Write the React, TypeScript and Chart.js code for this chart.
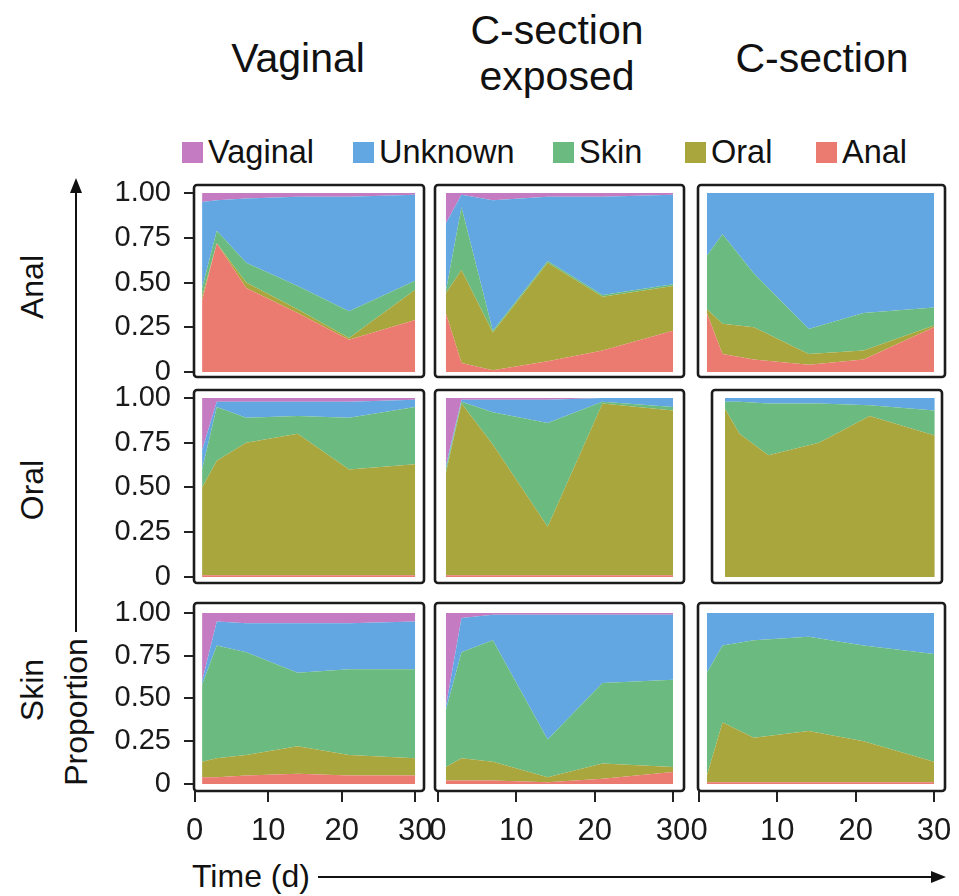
import React, { useEffect, useRef } from "react";
import { Chart, registerables } from "chart.js";
Chart.register(...registerables);

// ---------- data ----------
const days = [1, 3, 7, 14, 21, 30];
const sources = ["Anal", "Oral", "Skin", "Unknown", "Vaginal"]; // stacked bottom -> top
const legendOrder = ["Vaginal", "Unknown", "Skin", "Oral", "Anal"];
const sourceColors: Record<string, string> = {
  Anal: "#EB7A70",
  Oral: "#A8A63C",
  Skin: "#6BBB80",
  Unknown: "#62A6E2",
  Vaginal: "#C47BC1",
};
const deliveryModes = ["Vaginal", "C-section\nexposed", "C-section"];
const bodySites = ["Anal", "Oral", "Skin"];
const xTickValues = [0, 10, 20, 30];
const yTickValues = [0, 0.25, 0.5, 0.75, 1];
const yTickLabels = ["0", "0.25", "0.50", "0.75", "1.00"];

const anal_vaginal = {
  Anal: [0.4, 0.72, 0.47, 0.33, 0.18, 0.29],
  Oral: [0.02, 0.0, 0.03, 0.02, 0.01, 0.17],
  Skin: [0.05, 0.07, 0.11, 0.13, 0.15, 0.05],
  Unknown: [0.48, 0.17, 0.36, 0.5, 0.64, 0.48],
  Vaginal: [0.05, 0.04, 0.03, 0.02, 0.02, 0.01],
};
const anal_exposed = {
  Anal: [0.33, 0.05, 0.01, 0.06, 0.12, 0.23],
  Oral: [0.11, 0.52, 0.21, 0.55, 0.3, 0.25],
  Skin: [0.01, 0.35, 0.01, 0.01, 0.01, 0.01],
  Unknown: [0.38, 0.07, 0.73, 0.36, 0.55, 0.5],
  Vaginal: [0.17, 0.01, 0.04, 0.02, 0.02, 0.01],
};
const anal_csection = {
  Anal: [0.33, 0.1, 0.07, 0.04, 0.07, 0.25],
  Oral: [0.02, 0.17, 0.18, 0.06, 0.05, 0.01],
  Skin: [0.3, 0.5, 0.3, 0.14, 0.21, 0.1],
  Unknown: [0.35, 0.23, 0.45, 0.76, 0.67, 0.64],
  Vaginal: [0, 0, 0, 0, 0, 0],
};
const oral_vaginal = {
  Anal: [0.01, 0.01, 0.01, 0.01, 0.01, 0.01],
  Oral: [0.49, 0.64, 0.74, 0.79, 0.59, 0.62],
  Skin: [0.1, 0.3, 0.14, 0.1, 0.29, 0.32],
  Unknown: [0.11, 0.03, 0.09, 0.08, 0.09, 0.04],
  Vaginal: [0.29, 0.02, 0.02, 0.02, 0.02, 0.01],
};
const oral_exposed = {
  Anal: [0.01, 0.01, 0.01, 0.01, 0.01, 0.01],
  Oral: [0.57, 0.96, 0.73, 0.27, 0.96, 0.92],
  Skin: [0.02, 0.01, 0.18, 0.58, 0.01, 0.02],
  Unknown: [0.02, 0.01, 0.07, 0.13, 0.02, 0.05],
  Vaginal: [0.38, 0.01, 0.01, 0.01, 0.0, 0.0],
};
const oral_csection = {
  Anal: [0, 0, 0, 0, 0, 0],
  Oral: [0.94, 0.8, 0.68, 0.75, 0.9, 0.79],
  Skin: [0.04, 0.18, 0.29, 0.22, 0.06, 0.14],
  Unknown: [0.02, 0.02, 0.03, 0.03, 0.04, 0.07],
  Vaginal: [0, 0, 0, 0, 0, 0],
};
const skin_vaginal = {
  Anal: [0.04, 0.04, 0.05, 0.06, 0.05, 0.05],
  Oral: [0.09, 0.11, 0.12, 0.16, 0.12, 0.1],
  Skin: [0.45, 0.66, 0.6, 0.43, 0.5, 0.52],
  Unknown: [0.02, 0.14, 0.17, 0.29, 0.27, 0.28],
  Vaginal: [0.4, 0.05, 0.06, 0.06, 0.06, 0.05],
};
const skin_exposed = {
  Anal: [0.02, 0.02, 0.02, 0.01, 0.03, 0.07],
  Oral: [0.08, 0.13, 0.11, 0.03, 0.09, 0.03],
  Skin: [0.33, 0.62, 0.71, 0.22, 0.47, 0.51],
  Unknown: [0.02, 0.2, 0.15, 0.73, 0.4, 0.38],
  Vaginal: [0.55, 0.03, 0.01, 0.01, 0.01, 0.01],
};
const skin_csection = {
  Anal: [0.01, 0.01, 0.01, 0.01, 0.01, 0.01],
  Oral: [0.04, 0.35, 0.26, 0.3, 0.24, 0.12],
  Skin: [0.6, 0.45, 0.57, 0.55, 0.56, 0.63],
  Unknown: [0.35, 0.19, 0.16, 0.14, 0.19, 0.24],
  Vaginal: [0, 0, 0, 0, 0, 0],
};

const panelData = [
  [anal_vaginal, anal_exposed, anal_csection],
  [oral_vaginal, oral_exposed, oral_csection],
  [skin_vaginal, skin_exposed, skin_csection],
];

// ---------- layout ----------
const FONT = "'Liberation Sans', Arial, Helvetica, sans-serif";
const rowBoxes = [
  { y0: 185, y1: 377, ymin: -0.028, ymax: 1.045 },
  { y0: 390, y1: 583, ymin: -0.034, ymax: 1.045 },
  { y0: 603, y1: 791, ymin: -0.041, ymax: 1.058 },
];
const colBoxes = [
  { x0: 194, x1: 424, xmin: -0.1, xmax: 31.2 },
  { x0: 435, x1: 684, xmin: -0.38, xmax: 31.4 },
  { x0: 698, x1: 945, xmin: -0.13, xmax: 31.4 },
];
const specialBoxes: Record<string, { x0: number; x1: number; xmin: number; xmax: number }> = {
  "1-2": { x0: 712, x1: 942, xmin: -0.8, xmax: 31.0 },
};
const M = 30;
const AW = 100;
const AH = 70;

const boxPlugin = {
  id: "panelBox",
  afterDraw(chart: any) {
    const { ctx, chartArea } = chart;
    ctx.save();
    ctx.strokeStyle = "#1c1c1c";
    ctx.lineWidth = 2.6;
    ctx.beginPath();
    const w = chartArea.right - chartArea.left;
    const h = chartArea.bottom - chartArea.top;
    if (ctx.roundRect) ctx.roundRect(chartArea.left, chartArea.top, w, h, 3);
    else ctx.rect(chartArea.left, chartArea.top, w, h);
    ctx.stroke();
    ctx.restore();
  },
};

function Panel({ row, col }: { row: number; col: number }) {
  const ref = useRef<HTMLCanvasElement>(null);
  const rb = rowBoxes[row];
  const cb = specialBoxes[`${row}-${col}`] || colBoxes[col];
  const showY = col === 0;
  const showX = row === 2;
  const left = cb.x0 - M - (showY ? AW : 0);
  const top = rb.y0 - M;
  const width = cb.x1 - cb.x0 + 2 * M + (showY ? AW : 0);
  const height = rb.y1 - rb.y0 + 2 * M + (showX ? AH : 0);

  useEffect(() => {
    const data: any = panelData[row][col];
    const chart = new Chart(ref.current!, {
      type: "line",
      data: {
        datasets: sources.map((s, i) => ({
          label: s,
          data: days.map((d, j) => ({ x: d, y: data[s][j] })),
          backgroundColor: sourceColors[s],
          borderColor: sourceColors[s],
          borderWidth: 0,
          pointRadius: 0,
          fill: i === 0 ? "origin" : "-1",
          tension: 0,
        })),
      },
      options: {
        animation: false,
        responsive: false,
        maintainAspectRatio: false,
        layout: { padding: M },
        plugins: { legend: { display: false }, tooltip: { enabled: false } },
        scales: {
          x: {
            type: "linear",
            min: cb.xmin,
            max: cb.xmax,
            display: showX,
            afterBuildTicks: (s: any) => {
              s.ticks = xTickValues.map((v) => ({ value: v }));
            },
            afterFit: (s: any) => {
              if (!showX) return;
              s.height = AH;
              s.paddingLeft = 0;
              s.paddingRight = 0;
            },
            grid: {
              drawOnChartArea: false,
              drawTicks: true,
              tickLength: 11,
              color: "#222",
              tickColor: "#222",
              lineWidth: 2,
            },
            border: { display: false },
            ticks: {
              font: { size: 31, family: FONT },
              color: "#1a1a1a",
              padding: 11,
              maxRotation: 0,
              autoSkip: false,
              callback: (v: any) => String(v),
            },
          },
          y: {
            stacked: true,
            min: rb.ymin,
            max: rb.ymax,
            display: showY,
            afterBuildTicks: (s: any) => {
              s.ticks = yTickValues.map((v) => ({ value: v }));
            },
            afterFit: (s: any) => {
              if (!showY) return;
              s.width = AW;
              s.paddingTop = 0;
              s.paddingBottom = 0;
            },
            grid: {
              drawOnChartArea: false,
              drawTicks: true,
              tickLength: 10,
              color: "#222",
              tickColor: "#222",
              lineWidth: 2,
            },
            border: { display: false },
            ticks: {
              font: { size: 29, family: FONT },
              color: "#1a1a1a",
              padding: 13,
              autoSkip: false,
              callback: (v: any) => {
                const k = yTickValues.indexOf(Number(v));
                return k >= 0 ? yTickLabels[k] : "";
              },
            },
          },
        },
      },
      plugins: [boxPlugin],
    } as any);
    return () => chart.destroy();
  }, []);

  return (
    <canvas
      ref={ref}
      width={width}
      height={height}
      style={{ position: "absolute", left, top, width, height }}
    />
  );
}

const txt = (extra: React.CSSProperties): React.CSSProperties => ({
  position: "absolute",
  fontFamily: FONT,
  color: "#111",
  whiteSpace: "nowrap",
  lineHeight: 1,
  ...extra,
});

const titleCenters = [
  { x: 298, y: 58 },
  { x: 557, y: 53 },
  { x: 822, y: 58 },
];
const rowLabelCenters = [287, 490, 690];
const legendSquareX = [182, 353, 553, 685, 816];

export default function App() {
  return (
    <div style={{ position: "absolute", left: 0, top: 0, width: 959, height: 896, background: "#fff", overflow: "hidden" }}>
      {deliveryModes.map((t, i) => (
        <div
          key={t}
          style={txt({
            left: titleCenters[i].x,
            top: titleCenters[i].y,
            transform: "translate(-50%, -50%)",
            fontSize: 41,
            lineHeight: "46px",
            textAlign: "center",
            whiteSpace: "pre",
          })}
        >
          {t}
        </div>
      ))}

      {legendOrder.map((s, i) => (
        <React.Fragment key={s}>
          <div
            style={{
              position: "absolute",
              left: legendSquareX[i],
              top: 142,
              width: 21,
              height: 21,
              background: sourceColors[s],
            }}
          />
          <div style={txt({ left: legendSquareX[i] + 26, top: 152, transform: "translateY(-50%)", fontSize: 32.5 })}>{s}</div>
        </React.Fragment>
      ))}

      {bodySites.map((s, i) => (
        <div
          key={s}
          style={txt({
            left: 32,
            top: rowLabelCenters[i],
            transform: "translate(-50%, -50%) rotate(-90deg)",
            fontSize: 32,
          })}
        >
          {s}
        </div>
      ))}

      <div
        style={txt({
          left: 76,
          top: 712,
          transform: "translate(-50%, -50%) rotate(-90deg)",
          fontSize: 32,
        })}
      >
        Proportion
      </div>

      <div style={txt({ left: 192, top: 876, transform: "translateY(-50%)", fontSize: 32 })}>Time (d)</div>

      <svg width={959} height={896} style={{ position: "absolute", left: 0, top: 0, pointerEvents: "none" }}>
        <line x1={76} y1={632} x2={76} y2={190} stroke="#111" strokeWidth={2} />
        <polygon points="76,178 70,193 82,193" fill="#111" />
        <line x1={318} y1={877} x2={934} y2={877} stroke="#111" strokeWidth={2} />
        <polygon points="946,877 931,871 931,883" fill="#111" />
      </svg>

      {[0, 1, 2].map((r) => [0, 1, 2].map((c) => <Panel key={`${r}-${c}`} row={r} col={c} />))}
    </div>
  );
}
